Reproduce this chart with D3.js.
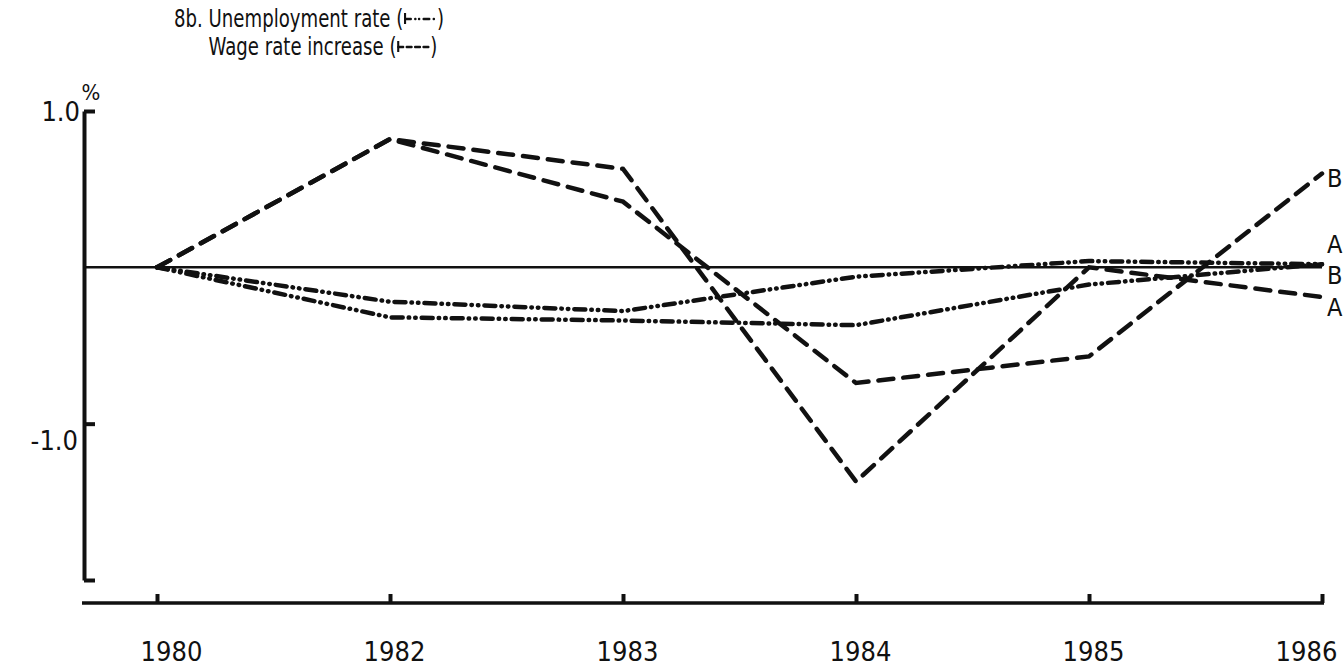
<!DOCTYPE html>
<html>
<head>
<meta charset="utf-8">
<script src="https://cdn.jsdelivr.net/npm/d3@7"></script>
<style>
  body { margin: 0; background: #fff; }
  svg text { font-family: "Liberation Sans Narrow", "DejaVu Sans Condensed", "Arial Narrow", sans-serif; fill: #111; white-space: pre; }
</style>
</head>
<body>
<svg id="chart"></svg>
<script>
// 8b. unemployment rate / wage rate increase, deviations in %
const years = ["1980", "1982", "1983", "1984", "1985", "1986"];
const wageA = [0, 0.82, 0.63, -1.37, 0.0, -0.19];
const wageB = [0, 0.82, 0.42, -0.74, -0.57, 0.60];
const unempA = [0, -0.22, -0.28, -0.06, 0.04, 0.02];
const unempB = [0, -0.32, -0.34, -0.37, -0.11, 0.02];
const yTicks = [1, -1, -2];

const width = 1344;
const height = 668;
const ink = "#111";

const dashed = "15,10";
const dashDot = "11,6,0.5,6,0.5,6";

const series = [
    { name: "A", values: wageA, dash: dashed, dy: 10 },
    { name: "B", values: wageB, dash: dashed, dy: 4 },
    { name: "A", values: unempA, dash: dashDot, dy: -20 },
    { name: "B", values: unempB, dash: dashDot, dy: 11 }
];

const svg = d3.select("#chart")
    .attr("width", width)
    .attr("height", height);

const x = d3.scalePoint().domain(years).range([157, 1322]);
const y = d3.scaleLinear().domain([-2, 1]).range([580, 111]);
const axisX = 84;   // where the y axis sits
const baseY = 603;  // where the x axis sits

/////// AXES ///////

const yAxis = svg.append("g")
    .attr("transform", "translate(" + axisX + ",0)")
    .call(d3.axisLeft(y).tickValues(yTicks).tickSize(-11).tickSizeOuter(0).tickPadding(4)
        .tickFormat(function (d) { return d === -2 ? "" : d.toFixed(1); }));
yAxis.attr("font-family", null).attr("font-size", null);
yAxis.select(".domain").attr("stroke", ink).attr("stroke-width", 4);
yAxis.selectAll(".tick line").attr("stroke", ink).attr("stroke-width", 4);
yAxis.selectAll(".tick text")
    .style("font-size", "27px")
    .attr("dy", function (d) { return d < 0 ? "0.95em" : "0.36em"; })
    .attr("x", function (d) { return d < 0 ? -6 : -4; });

// % sign over the top tick
svg.append("text")
    .attr("x", axisX + 7)
    .attr("y", y(1) - 11)
    .attr("text-anchor", "middle")
    .style("font-size", "22px")
    .text("%");

const xAxis = svg.append("g")
    .attr("transform", "translate(0," + baseY + ")")
    .call(d3.axisBottom(x).tickSize(-9).tickSizeOuter(0).tickPadding(0));
xAxis.attr("font-family", null).attr("font-size", null);
xAxis.select(".domain").remove();
xAxis.selectAll(".tick line").attr("stroke", ink).attr("stroke-width", 4);
xAxis.selectAll(".tick text")
    .style("font-size", "27px")
    .attr("y", 58)
    .attr("dy", 0)
    .attr("dx", function (d, i) { return i === 0 ? 14 : (i === years.length - 1 ? -16 : 4); });

svg.append("line")
    .attr("x1", axisX - 2).attr("x2", x(years[years.length - 1]) + 2)
    .attr("y1", baseY).attr("y2", baseY)
    .attr("stroke", ink).attr("stroke-width", 3.5);

// zero reference line
svg.append("line")
    .attr("x1", axisX).attr("x2", x(years[years.length - 1]))
    .attr("y1", y(0)).attr("y2", y(0))
    .attr("stroke", ink).attr("stroke-width", 2.5);

/////// SERIES ///////

const line = d3.line()
    .x(function (d, i) { return x(years[i]); })
    .y(function (d) { return y(d); });

svg.selectAll(".series")
    .data(series)
    .enter().append("path")
    .attr("class", "series")
    .attr("d", function (d) { return line(d.values); })
    .attr("fill", "none")
    .attr("stroke", ink)
    .attr("stroke-width", 4.5)
    .attr("stroke-linecap", "round")
    .attr("stroke-dasharray", function (d) { return d.dash; });

svg.selectAll(".endLabel")
    .data(series)
    .enter().append("text")
    .attr("class", "endLabel")
    .attr("x", x(years[years.length - 1]) + 5)
    .attr("y", function (d) { return y(d.values[d.values.length - 1]) + d.dy; })
    .attr("dy", "0.36em")
    .style("font-size", "25px")
    .text(function (d) { return d.name; });

/////// TITLE ///////

// narrow typewriter look: squeeze the title horizontally
const title = svg.append("g")
    .attr("transform", "translate(174,0) scale(0.84,1)");

function legendLine(textX, textY, label, dash) {
    const t = title.append("text")
        .attr("x", textX).attr("y", textY)
        .style("font-size", "24px")
        .text(label + " (");
    const end = textX + t.node().getComputedTextLength();
    title.append("line")
        .attr("x1", end + 2).attr("x2", end + 38)
        .attr("y1", textY - 8).attr("y2", textY - 8)
        .attr("stroke", ink).attr("stroke-width", 2.5)
        .attr("stroke-linecap", "round")
        .attr("stroke-dasharray", dash);
    title.append("line")
        .attr("x1", end + 2).attr("x2", end + 2)
        .attr("y1", textY - 14).attr("y2", textY - 3)
        .attr("stroke", ink).attr("stroke-width", 2.5);
    title.append("text")
        .attr("x", end + 40).attr("y", textY)
        .style("font-size", "24px")
        .text(")");
}

const prefix = title.append("text")
    .attr("x", 0).attr("y", 27)
    .style("font-size", "24px")
    .text("8b. ");
const indent = prefix.node().getComputedTextLength();

legendLine(indent, 27, "Unemployment rate", "7,5,0.5,4,0.5,5");
legendLine(indent, 55, "Wage rate increase", "6,4");
</script>
</body>
</html>
